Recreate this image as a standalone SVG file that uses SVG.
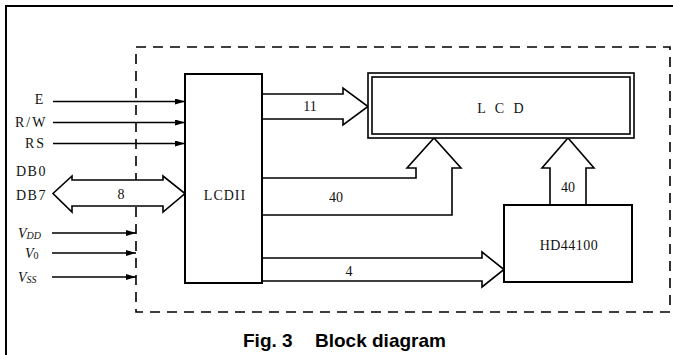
<svg xmlns="http://www.w3.org/2000/svg" width="673" height="355" viewBox="0 0 673 355">
<defs>
<marker id="ah" viewBox="0 0 10 6" refX="10" refY="3" markerWidth="10" markerHeight="6" markerUnits="userSpaceOnUse" orient="auto">
<path d="M0,0 L10,3 L0,6 Z" fill="#000"/>
</marker>
<style>
.t{font-family:"Liberation Serif","Times New Roman",serif;font-size:14px;fill:#111}
.ti{font-family:"Liberation Serif","Times New Roman",serif;font-style:italic;font-size:14px;fill:#111}
.box{fill:#fff;stroke:#000;stroke-width:2}
.fat{fill:#fff;stroke:#000;stroke-width:1.6;stroke-linejoin:miter}
.sig{stroke:#000;stroke-width:1.6;fill:none;marker-end:url(#ah)}
.cap{font-family:"Liberation Sans",Arial,sans-serif;font-weight:bold;font-size:19px;fill:#000}
</style>
</defs>
<rect width="673" height="355" fill="#fff"/>
<g id="frame">
<path d="M6,356 V6 H674" fill="none" stroke="#000" stroke-width="2"/>
<rect x="136" y="47" width="534" height="265" fill="none" stroke="#000" stroke-width="1.6" stroke-dasharray="10 7"/>
</g>
<g id="connectors">
<line class="sig" x1="53" y1="101.5" x2="185" y2="101.5"/>
<line class="sig" x1="53" y1="122.5" x2="185" y2="122.5"/>
<line class="sig" x1="53" y1="143.5" x2="185" y2="143.5"/>
<line class="sig" x1="52" y1="233" x2="136" y2="233"/>
<line class="sig" x1="52" y1="253" x2="136" y2="253"/>
<line class="sig" x1="52" y1="277" x2="136" y2="277"/>
<path class="fat" d="M72,180 H163 V176 L185,193.5 L163,212 V206 H72 V212 L53,193.5 L72,176 Z"/>
<path class="fat" d="M263,94 H343 V88 L368,106.5 L343,125 V119 H263"/>
<path class="fat" d="M263,178 H416 V168 H407 L434,138 L461,168 H452 V215 H263"/>
<path class="fat" d="M550,205 V168 H542 L568,138 L594,168 H586 V205"/>
<path class="fat" d="M263,258 H482 V252 L504,269.5 L482,287 V281 H263"/>
<text class="t" x="121" y="199" text-anchor="middle">8</text>
<text class="t" x="310" y="111" text-anchor="middle">11</text>
<text class="t" x="336" y="202" text-anchor="middle">40</text>
<text class="t" x="568" y="192" text-anchor="middle">40</text>
<text class="t" x="349" y="276" text-anchor="middle">4</text>
</g>
<g id="labels">
<text class="t" x="39" y="104" text-anchor="middle">E</text>
<text class="t" x="15" y="127" letter-spacing="2">R/W</text>
<text class="t" x="25" y="148" letter-spacing="2">RS</text>
<text class="t" x="16" y="176" letter-spacing="1.5">DB0</text>
<text class="t" x="16" y="200" letter-spacing="1.5">DB7</text>
<text class="ti" x="18" y="238">V<tspan font-size="10" dy="1">DD</tspan></text>
<text class="ti" x="25" y="258">V<tspan font-size="10" font-style="normal" dy="1">0</tspan></text>
<text class="ti" x="18" y="282">V<tspan font-size="10" dy="1">SS</tspan></text>
</g>
<g id="lcd2">
<rect class="box" x="185" y="74" width="77" height="209"/>
<text class="t" x="225" y="200" text-anchor="middle" letter-spacing="1">LCDII</text>
</g>
<g id="lcd">
<rect x="368" y="73" width="266" height="65" fill="#fff" stroke="#000" stroke-width="1.6"/>
<rect x="372" y="77" width="258" height="57" fill="none" stroke="#000" stroke-width="1.6"/>
<text class="t" x="502" y="113" text-anchor="middle" letter-spacing="3">L C D</text>
</g>
<g id="hd44100">
<rect class="box" x="504" y="205" width="128" height="77"/>
<text class="t" x="569" y="250" text-anchor="middle" letter-spacing="0.5">HD44100</text>
</g>
<g id="caption">
<text class="cap" x="243" y="347">Fig. 3</text>
<text class="cap" x="315" y="347">Block diagram</text>
</g>
</svg>
